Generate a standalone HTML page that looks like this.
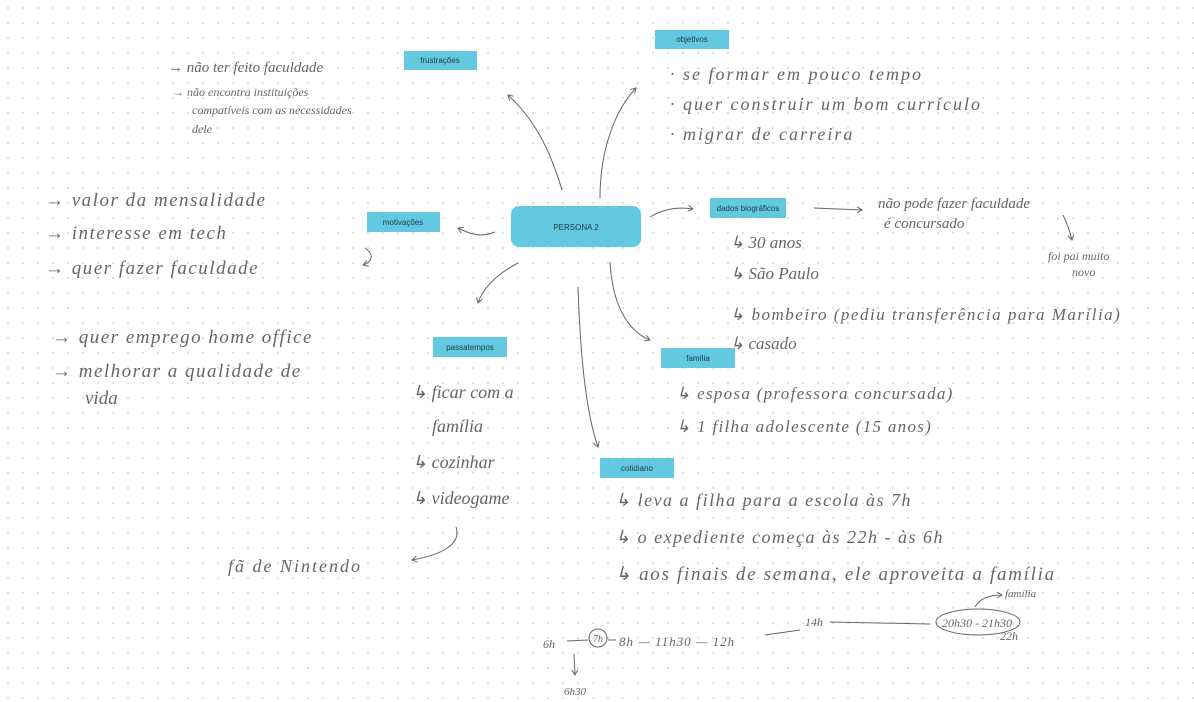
<!DOCTYPE html>
<html><head><meta charset="utf-8"><style>
html,body{margin:0;padding:0;background:#fff;}
svg{display:block}
.n{fill:#63c9e0}
.nt{font-family:"Liberation Sans",sans-serif;font-size:8px;fill:#1f3a44;text-anchor:middle}
.h{font-family:"Liberation Serif",serif;font-style:italic;fill:#666;}
.l{fill:none;stroke:#666;stroke-width:1}
</style></head><body>
<svg width="1194" height="702" viewBox="0 0 1194 702" xmlns="http://www.w3.org/2000/svg">
<defs>
<pattern id="g" width="15" height="15" patternUnits="userSpaceOnUse" x="7" y="7"><circle cx="1" cy="1" r="0.9" fill="#c8c8c8"/></pattern>
<marker id="a" markerWidth="8" markerHeight="8" refX="6" refY="4" orient="auto"><path d="M1,1 L6,4 L1,7" fill="none" stroke="#666" stroke-width="1"/></marker>
</defs>
<rect width="1194" height="702" fill="url(#g)"/>
<rect class="n" x="511" y="206" width="130" height="41" rx="8"/><text class="nt" x="576" y="230">PERSONA 2</text>
<rect class="n" x="404" y="51" width="73" height="19"/><text class="nt" x="440" y="63">frustrações</text>
<rect class="n" x="655" y="30" width="74" height="19"/><text class="nt" x="692" y="42">objetivos</text>
<rect class="n" x="710" y="198" width="76" height="20"/><text class="nt" x="748" y="211">dados biográficos</text>
<rect class="n" x="367" y="212" width="73" height="20"/><text class="nt" x="403" y="225">motivações</text>
<rect class="n" x="433" y="337" width="74" height="20"/><text class="nt" x="470" y="350">passatempos</text>
<rect class="n" x="661" y="348" width="74" height="20"/><text class="nt" x="698" y="361">família</text>
<rect class="n" x="600" y="458" width="74" height="20"/><text class="nt" x="637" y="471">cotidiano</text>
<path class="l" marker-end="url(#a)" d="M562,190 C550,150 535,120 508,95"/>
<path class="l" marker-end="url(#a)" d="M600,198 C600,150 615,110 636,88"/>
<path class="l" marker-end="url(#a)" d="M650,217 C665,208 680,207 693,209"/>
<path class="l" marker-end="url(#a)" d="M495,232 C480,238 470,234 458,228"/>
<path class="l" marker-end="url(#a)" d="M518,263 C495,275 482,290 478,303"/>
<path class="l" marker-end="url(#a)" d="M610,262 C612,300 625,330 650,340"/>
<path class="l" marker-end="url(#a)" d="M578,287 C580,350 585,410 598,447"/>
<path class="l" marker-end="url(#a)" d="M814,208 L862,210"/>
<path class="l" marker-end="url(#a)" d="M1063,215 C1068,225 1070,232 1072,240"/>
<path class="l" marker-end="url(#a)" d="M456,527 C462,545 440,555 412,560"/>
<path class="l" marker-end="url(#a)" d="M365,248 C375,255 372,262 363,265"/>
<path class="l" d="M567,641 L588,640 M608,640 L616,640 M765,635 L800,630 M830,622 L930,624"/>
<ellipse cx="598" cy="638" rx="9" ry="9" class="l"/>
<ellipse cx="978" cy="622" rx="42" ry="13" class="l"/>
<path class="l" marker-end="url(#a)" d="M574,654 L575,675"/>
<path class="l" marker-end="url(#a)" d="M975,607 C980,598 990,595 1002,595"/>
<g class="h" font-size="15">
<text x="168" y="72">→ não ter feito faculdade</text>
<text x="172" y="96" font-size="12">→ não encontra instituições</text>
<text x="192" y="114" font-size="12">compatíveis com as necessidades</text>
<text x="192" y="133" font-size="12">dele</text>
<text x="670" y="80" font-size="18" letter-spacing="2">·  se formar em pouco tempo</text>
<text x="670" y="110" font-size="18" letter-spacing="2">·  quer construir um bom currículo</text>
<text x="670" y="140" font-size="18" letter-spacing="2">·  migrar de carreira</text>
<text x="45" y="206" font-size="19" letter-spacing="1.5">→ valor da mensalidade</text>
<text x="45" y="239" font-size="19" letter-spacing="1.5">→ interesse em tech</text>
<text x="45" y="274" font-size="19" letter-spacing="1.5">→ quer fazer faculdade</text>
<text x="52" y="343" font-size="19" letter-spacing="1.5">→ quer emprego home office</text>
<text x="52" y="377" font-size="19" letter-spacing="1.5">→ melhorar a qualidade de</text>
<text x="85" y="404" font-size="19">vida</text>
<text x="878" y="208" font-size="15">não pode fazer faculdade</text>
<text x="884" y="228" font-size="15">é concursado</text>
<text x="1048" y="260" font-size="12">foi pai muito</text>
<text x="1072" y="276" font-size="12">novo</text>
<text x="730" y="248" font-size="17">↳ 30 anos</text>
<text x="730" y="279" font-size="17">↳ São Paulo</text>
<text x="730" y="320" font-size="17" letter-spacing="1.5">↳ bombeiro (pediu transferência para Marília)</text>
<text x="730" y="349" font-size="17">↳ casado</text>
<text x="412" y="398" font-size="18">↳ ficar com a</text>
<text x="432" y="432" font-size="18">família</text>
<text x="412" y="468" font-size="18">↳ cozinhar</text>
<text x="412" y="504" font-size="18">↳ videogame</text>
<text x="228" y="572" font-size="18" letter-spacing="2">fã de Nintendo</text>
<text x="676" y="399" font-size="17" letter-spacing="1.3">↳ esposa (professora concursada)</text>
<text x="676" y="432" font-size="17" letter-spacing="1.3">↳ 1 filha adolescente (15 anos)</text>
<text x="615" y="506" font-size="18" letter-spacing="1.5">↳ leva a filha para a escola às 7h</text>
<text x="615" y="543" font-size="18" letter-spacing="1.5">↳ o expediente começa às 22h - às 6h</text>
<text x="615" y="580" font-size="19" letter-spacing="1.7">↳ aos finais de semana, ele aproveita a família</text>
<text x="543" y="648" font-size="12">6h</text>
<text x="593" y="642" font-size="10">7h</text>
<text x="619" y="646" font-size="13" letter-spacing="1">8h — 11h30 — 12h</text>
<text x="805" y="626" font-size="12">14h</text>
<text x="942" y="627" font-size="12">20h30 - 21h30</text>
<text x="1000" y="640" font-size="12">22h</text>
<text x="1005" y="597" font-size="11">família</text>
<text x="564" y="695" font-size="11">6h30</text>
</g>
</svg>
</body></html>
